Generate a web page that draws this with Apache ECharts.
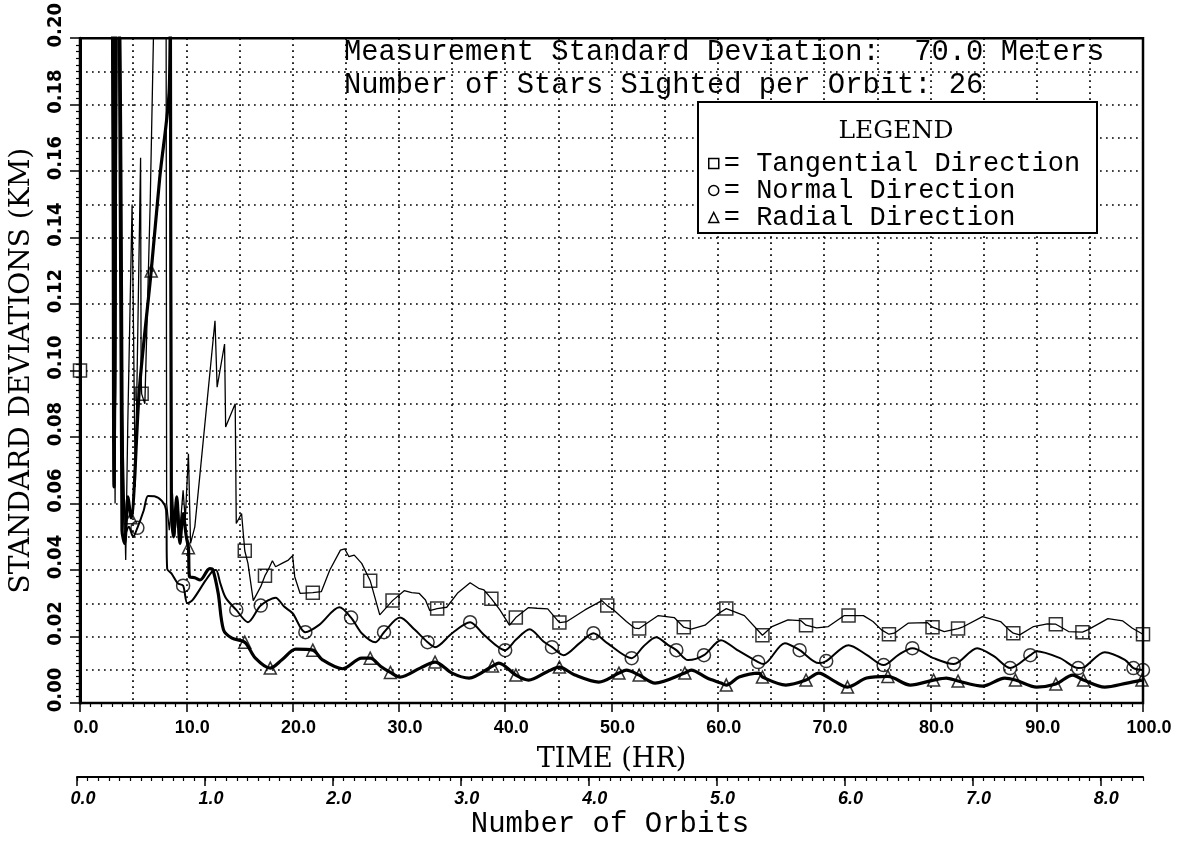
<!DOCTYPE html>
<html>
<head>
<meta charset="utf-8">
<script src="https://cdn.jsdelivr.net/npm/echarts@6/dist/echarts.min.js"></script>
<style>
  html, body { margin: 0; padding: 0; background: #fff; }
  #chart { width: 1179px; height: 842px; }
</style>
</head>
<body>
<div id="chart"></div>
<script>
// Position-error standard deviations (km) against time since epoch (hr).
// Each point is [time, sigma]; early values start far above the plotted range.
const tangential = [
  [0, 0.100], [0.3, 0.60], [3.0, 0.30], [3.3, 0.060], [3.55, 0.25], [3.9, 0.100], [4.3, 0.043],
  [4.5, 0.085], [4.9, 0.150], [5.2, 0.065], [5.7, 0.164], [5.75, 0.098], [5.8, 0.093], [6.1, 0.090],
  [6.6, 0.150], [7.0, 0.215], [7.6, 0.220], [8.1, 0.210], [8.15, 0.060], [8.4, 0.052], [8.7, 0.063],
  [8.9, 0.050], [9.2, 0.060], [9.4, 0.052], [9.7, 0.064], [9.9, 0.055], [10.2, 0.075], [10.4, 0.048],
  [10.8, 0.053], [12.7, 0.115], [12.9, 0.095], [13.6, 0.108], [13.7, 0.083], [14.6, 0.090], [14.7, 0.054],
  [15.2, 0.057], [15.5, 0.0458], [15.8, 0.042], [16.3, 0.0308], [17.0, 0.035], [17.4, 0.0383],
  [17.7, 0.040], [18.1, 0.0428], [18.4, 0.041], [19.0, 0.042], [19.6, 0.043], [20.0, 0.0443],
  [20.2, 0.038], [20.7, 0.033], [21.9, 0.0332], [22.7, 0.0335], [23.5, 0.040], [24.5, 0.046],
  [24.9, 0.0464], [25.3, 0.044], [25.8, 0.0445], [26.5, 0.042], [27.3, 0.0368], [28.2, 0.0265],
  [29.4, 0.0308], [30.5, 0.0338], [31.2, 0.0332], [31.9, 0.033], [32.5, 0.031], [32.9, 0.0278],
  [33.6, 0.0284], [34.5, 0.0288], [35.5, 0.033], [36.7, 0.0362], [37.5, 0.0345], [38.0, 0.034],
  [38.7, 0.0314], [39.5, 0.028], [40.4, 0.0234], [41.0, 0.0257], [42.2, 0.0287], [43.0, 0.0285],
  [44.0, 0.0283], [45.1, 0.0242], [45.8, 0.0245], [47.5, 0.028], [49.1, 0.0308], [49.6, 0.0293],
  [50.2, 0.028], [51.4, 0.0245], [52.2, 0.0225], [52.6, 0.0224], [54.4, 0.0263], [55.9, 0.0257],
  [56.8, 0.0228], [57.5, 0.0222], [58.8, 0.0234], [60.1, 0.027], [60.8, 0.0284], [62.5, 0.0263],
  [64.2, 0.0204], [65.1, 0.023], [66.6, 0.025], [67.8, 0.0248], [68.3, 0.0234], [69.3, 0.0226],
  [70.4, 0.023], [71.9, 0.0263], [72.3, 0.0263], [73.7, 0.0263], [74.6, 0.0245], [75.4, 0.022],
  [76.1, 0.0207], [76.6, 0.021], [77.9, 0.024], [79.7, 0.0242], [80.2, 0.0228], [81.3, 0.0215],
  [82.6, 0.0224], [83.0, 0.0228], [84.9, 0.026], [86.6, 0.0245], [87.4, 0.022], [87.8, 0.021],
  [88.4, 0.0205], [89.7, 0.023], [91.0, 0.0238], [91.8, 0.0237], [93.0, 0.0215], [94.3, 0.0213],
  [94.8, 0.022], [96.7, 0.0254], [98.1, 0.0247], [99.0, 0.0225], [100, 0.0207]
];
const normal = [
  [0, 0.90], [2.9, 0.25], [3.3, 0.085], [3.5, 0.22], [3.8, 0.20], [4.2, 0.050], [4.6, 0.053],
  [5.0, 0.050], [5.4, 0.0527], [6.0, 0.058], [6.4, 0.0623], [7.0, 0.0622], [7.7, 0.0608], [8.1, 0.058],
  [8.2, 0.0404], [8.6, 0.039], [9.2, 0.036], [9.7, 0.0353], [10.1, 0.030], [10.6, 0.031],
  [11.8, 0.0368], [12.5, 0.0398], [12.8, 0.040], [13.2, 0.036], [13.7, 0.0317], [14.7, 0.028],
  [15.8, 0.0243], [17.0, 0.0293], [18.4, 0.0317], [19.2, 0.029], [20.0, 0.027], [21.2, 0.0213],
  [22.5, 0.0235], [24.4, 0.0288], [25.5, 0.0257], [26.5, 0.021], [27.8, 0.0183], [28.6, 0.0213],
  [30.1, 0.0257], [31.5, 0.022], [32.7, 0.0183], [33.4, 0.0168], [35.0, 0.021], [36.7, 0.0243],
  [38.0, 0.0205], [40.0, 0.0159], [41.0, 0.019], [42.3, 0.0222], [43.6, 0.0185], [44.4, 0.0168],
  [45.5, 0.0144], [47.0, 0.018], [48.3, 0.021], [49.6, 0.018], [51.9, 0.0135], [53.0, 0.017],
  [54.2, 0.0198], [55.3, 0.0175], [56.1, 0.0159], [57.2, 0.0129], [58.7, 0.0144], [60.3, 0.0189],
  [61.8, 0.016], [63.8, 0.0123], [64.3, 0.0117], [66.3, 0.018], [67.7, 0.0159], [69.5, 0.012],
  [70.2, 0.0126], [72.3, 0.0174], [74.0, 0.0145], [75.6, 0.0114], [77.0, 0.0145], [78.3, 0.0165],
  [80.3, 0.0135], [82.2, 0.0117], [84.4, 0.0165], [86.0, 0.014], [87.5, 0.0105], [89.4, 0.0144],
  [90.0, 0.0156], [92.2, 0.0135], [93.9, 0.0105], [94.5, 0.0108], [96.4, 0.0153], [98.3, 0.013],
  [99.1, 0.0105], [100, 0.0099]
];
const radial = [
  [0, 0.60], [2.9, 0.26], [3.2, 0.065], [3.45, 0.23], [3.7, 0.21], [3.95, 0.052], [4.2, 0.048],
  [4.5, 0.062], [4.8, 0.0557], [5.6, 0.095], [6.7, 0.130], [7.5, 0.158], [8.4, 0.185], [8.5, 0.215],
  [8.6, 0.058], [8.8, 0.050], [9.1, 0.062], [9.4, 0.048], [9.7, 0.057], [10.0, 0.050], [10.2, 0.0467],
  [10.3, 0.038], [10.8, 0.0377], [11.3, 0.037], [12.2, 0.0404], [12.5, 0.040], [13.0, 0.033],
  [13.5, 0.022], [14.3, 0.0195], [15.5, 0.0183], [16.5, 0.0135], [17.9, 0.0105], [19.0, 0.013],
  [20.3, 0.0162], [21.9, 0.0159], [22.8, 0.013], [24.7, 0.0103], [26.5, 0.0135], [27.3, 0.0135],
  [28.3, 0.011], [29.2, 0.0092], [30.1, 0.0078], [32.0, 0.0105], [33.4, 0.0123], [35.0, 0.009],
  [36.6, 0.0075], [38.8, 0.0111], [39.4, 0.012], [41.0, 0.0084], [42.2, 0.0069], [44.0, 0.0095],
  [45.1, 0.0108], [46.5, 0.0085], [48.8, 0.0063], [50.7, 0.009], [51.4, 0.0099], [52.6, 0.0084],
  [54.1, 0.006], [56.9, 0.009], [57.5, 0.0099], [59.0, 0.0075], [60.3, 0.006], [60.8, 0.0054],
  [62.0, 0.0078], [63.9, 0.009], [64.2, 0.0078], [66.4, 0.0054], [68.3, 0.0069], [69.5, 0.009],
  [71.0, 0.0065], [72.2, 0.0048], [74.0, 0.0075], [76.0, 0.0080], [78.1, 0.0054], [80.3, 0.0069],
  [81.5, 0.0075], [82.6, 0.0066], [84.9, 0.0051], [87.0, 0.0075], [88.0, 0.0069], [90.0, 0.0048],
  [91.8, 0.0057], [93.4, 0.0084], [94.4, 0.0069], [96.4, 0.0048], [98.5, 0.006], [99.9, 0.0069]
];

// Times (hr) at which each curve carries its plot symbol
const tangentialMarks = [0, 5.8, 15.5, 17.4, 21.9, 27.3, 29.4, 33.6, 38.7, 41.0, 45.1, 49.6, 52.6,
  56.8, 60.8, 64.2, 68.3, 72.3, 76.1, 80.2, 82.6, 87.8, 91.8, 94.3, 100];
const normalMarks = [5.4, 9.7, 14.7, 17.0, 21.2, 25.5, 28.6, 32.7, 36.7, 40.0, 44.4, 48.3, 51.9,
  56.1, 58.7, 63.8, 67.7, 70.2, 75.6, 78.3, 82.2, 87.5, 89.4, 93.9, 99.1, 100];
const radialMarks = [4.8, 6.7, 10.2, 15.5, 17.9, 21.9, 27.3, 29.2, 33.4, 38.8, 41.0, 45.1, 50.7,
  52.6, 56.9, 60.8, 64.2, 68.3, 72.2, 76.0, 80.3, 82.6, 88.0, 91.8, 94.4, 99.9];

// Axis ranges and tick spacing
const timeRange = [0, 100];          // hr
const sigmaRange = [0, 0.20];        // km
const hoursPerOrbit = 12;

const titleLines = [
  'Measurement Standard Deviation:  70.0 Meters',
  'Number of Stars Sighted per Orbit: 26'
];
const legendNames = ['Tangential Direction', 'Normal Direction', 'Radial Direction'];

const pick = (pts, times) => pts.filter(p => times.indexOf(p[0]) !== -1);

const MONO = '"Liberation Mono", "DejaVu Sans Mono", monospace';
const SERIF = '"DejaVu Serif", "Liberation Serif", serif';
const TICKFONT = '"Liberation Sans", Arial, sans-serif';
const NARROW = '"Liberation Sans Narrow", "DejaVu Sans Condensed", "Liberation Sans", sans-serif';

const dotted = { color: '#000', width: 1.7, type: [1.7, 4.3] };
const hollow = { color: 'rgba(0,0,0,0)', borderColor: '#000', borderWidth: 1.5 };

const chart = echarts.init(document.getElementById('chart'), null, { renderer: 'canvas' });

chart.setOption({
  animation: false,
  backgroundColor: '#fff',
  grid: [
    { left: 77, right: 36, top: 35, bottom: 139, show: true, borderColor: '#000', borderWidth: 2.5,
      backgroundColor: 'transparent' },
    { left: 77, right: 36, top: 776, height: 1 }
  ],
  xAxis: [
    { // time axis with labels and ticks
      type: 'value', gridIndex: 0, position: 'bottom', min: timeRange[0], max: timeRange[1], interval: 10,
      name: 'TIME (HR)', nameLocation: 'middle', nameGap: 43,
      nameTextStyle: { fontFamily: SERIF, fontSize: 27, color: '#000' },
      axisLine: { show: true, onZero: false, lineStyle: { color: '#000', width: 2 } },
      axisTick: { show: true, length: 9, lineStyle: { color: '#000', width: 1.5 } },
      minorTick: { show: true, splitNumber: 10, length: 4, lineStyle: { color: '#000', width: 1.2 } },
      axisLabel: { margin: 16, fontFamily: TICKFONT, fontWeight: 'bold', fontSize: 18, color: '#000',
        padding: [0, 0, 0, 12], formatter: v => v.toFixed(1) },
      splitLine: { show: false }
    },
    { // dotted grid every 5 hr
      type: 'value', gridIndex: 0, position: 'bottom', min: timeRange[0], max: timeRange[1], interval: 5,
      axisLine: { show: false }, axisTick: { show: false }, axisLabel: { show: false },
      splitLine: { show: true, lineStyle: dotted }
    },
    { // orbit count axis (major ticks each orbit)
      type: 'value', gridIndex: 1, position: 'bottom', min: timeRange[0], max: timeRange[1],
      interval: hoursPerOrbit,
      name: 'Number of Orbits', nameLocation: 'middle', nameGap: 33,
      nameTextStyle: { fontFamily: MONO, fontSize: 29, color: '#000' },
      axisLine: { show: true, lineStyle: { color: '#000', width: 2 } },
      axisTick: { show: true, length: 9, lineStyle: { color: '#000', width: 1.5 } },
      axisLabel: { margin: 13, fontFamily: TICKFONT, fontWeight: 'bold', fontStyle: 'italic', fontSize: 18,
        color: '#000', padding: [0, 0, 0, 12], showMaxLabel: false,
        formatter: v => (v / hoursPerOrbit).toFixed(1) },
      splitLine: { show: false }
    },
    { // orbit axis hourly minor ticks
      type: 'value', gridIndex: 1, position: 'bottom', min: timeRange[0], max: timeRange[1], interval: 1,
      axisLine: { show: false },
      axisTick: { show: true, length: 4, lineStyle: { color: '#000', width: 1.2 } },
      axisLabel: { show: false }, splitLine: { show: false }
    }
  ],
  yAxis: [
    {
      type: 'value', gridIndex: 0, position: 'left', min: sigmaRange[0], max: sigmaRange[1], interval: 0.02,
      name: 'STANDARD DEVIATIONS (KM)', nameLocation: 'middle', nameRotate: 90, nameGap: 44,
      nameTextStyle: { fontFamily: SERIF, fontSize: 28, color: '#000' },
      axisLine: { show: true, onZero: false, lineStyle: { color: '#000', width: 3 } },
      axisTick: { show: true, length: 10, lineStyle: { color: '#000', width: 1.5 } },
      minorTick: { show: true, splitNumber: 10, length: 4, lineStyle: { color: '#000', width: 1.2 } },
      axisLabel: { rotate: 90, margin: 14, fontFamily: NARROW, fontWeight: 'bold', fontSize: 20, color: '#000',
        padding: [0, 0, 0, 26], formatter: v => v.toFixed(2) },
      splitLine: { show: false }
    },
    { // dotted grid every 0.01 km
      type: 'value', gridIndex: 0, position: 'left', min: sigmaRange[0], max: sigmaRange[1], interval: 0.01,
      axisLine: { show: false }, axisTick: { show: false }, axisLabel: { show: false },
      splitLine: { show: true, lineStyle: dotted }
    },
    { type: 'value', gridIndex: 1, min: 0, max: 1, show: false }
  ],
  legend: {
    orient: 'vertical', left: 703, top: 145, itemGap: 0, itemWidth: 10, itemHeight: 10,
    selectedMode: false, z: 10,
    itemStyle: hollow,
    textStyle: { fontFamily: MONO, fontSize: 27, color: '#000', lineHeight: 27 },
    formatter: '= {name}',
    data: [
      { name: legendNames[0], icon: 'rect' },
      { name: legendNames[1], icon: 'circle' },
      { name: legendNames[2], icon: 'triangle' }
    ]
  },
  graphic: [
    { type: 'text', x: 344, y: 52, z: 3,
      style: { text: titleLines[0], font: '28.8px ' + MONO, fill: '#000', align: 'left', verticalAlign: 'middle' } },
    { type: 'text', x: 344, y: 85, z: 3,
      style: { text: titleLines[1], font: '28.8px ' + MONO, fill: '#000', align: 'left', verticalAlign: 'middle' } },
    { type: 'rect', z: 5, shape: { x: 698, y: 102, width: 399, height: 131 },
      style: { fill: '#fff', stroke: '#000', lineWidth: 2 } },
    { type: 'text', x: 896, y: 131, z: 6,
      style: { text: 'LEGEND', font: '25px ' + SERIF, fill: '#000', align: 'center', verticalAlign: 'middle' } }
  ],
  series: [
    { name: legendNames[0], type: 'line', xAxisIndex: 0, yAxisIndex: 0, data: tangential, symbol: 'none',
      lineStyle: { color: '#000', width: 1.3 }, itemStyle: { color: '#000' }, z: 2 },
    { name: legendNames[1], type: 'line', xAxisIndex: 0, yAxisIndex: 0, data: normal, symbol: 'none',
      smooth: 0.3,
      lineStyle: { color: '#000', width: 2 }, itemStyle: { color: '#000' }, z: 2 },
    { name: legendNames[2], type: 'line', xAxisIndex: 0, yAxisIndex: 0, data: radial, symbol: 'none',
      smooth: 0.3,
      lineStyle: { color: '#000', width: 3.2 }, itemStyle: { color: '#000' }, z: 2 },
    { name: legendNames[0], type: 'scatter', xAxisIndex: 0, yAxisIndex: 0, symbol: 'rect', symbolSize: 13,
      data: pick(tangential, tangentialMarks), itemStyle: hollow, z: 3 },
    { name: legendNames[1], type: 'scatter', xAxisIndex: 0, yAxisIndex: 0, symbol: 'circle', symbolSize: 13,
      data: pick(normal, normalMarks), itemStyle: hollow, z: 3 },
    { name: legendNames[2], type: 'scatter', xAxisIndex: 0, yAxisIndex: 0, symbol: 'triangle', symbolSize: 12,
      data: pick(radial, radialMarks), itemStyle: hollow, z: 3 }
  ]
});
</script>
</body>
</html>
